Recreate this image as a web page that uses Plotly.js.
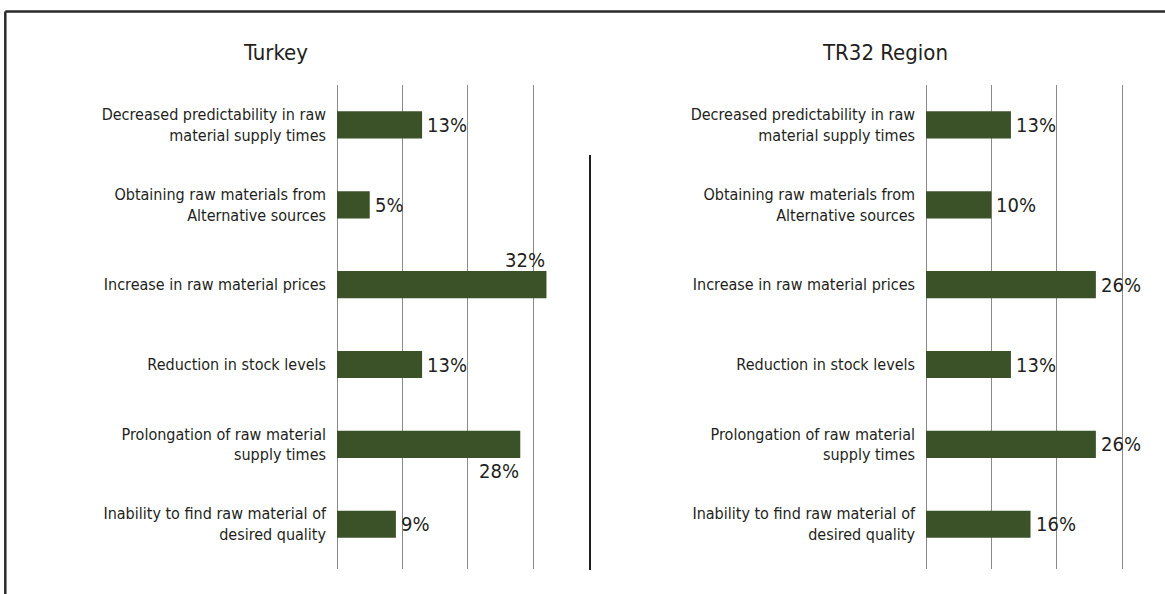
<!DOCTYPE html>
<html>
<head>
<meta charset="utf-8">
<script src="https://cdn.plot.ly/plotly-3.0.1.min.js"></script>
<style>
  html, body { margin: 0; padding: 0; background: #ffffff; }
  #chart { width: 1165px; height: 594px; }
</style>
</head>
<body>
<div id="chart"></div>
<script>
// ---- data ----
const categories = [
  "Decreased predictability in raw<br>material supply times",
  "Obtaining raw materials from<br>Alternative sources",
  "Increase in raw material prices",
  "Reduction in stock levels",
  "Prolongation of raw material<br>supply times",
  "Inability to find raw material of<br>desired quality"
];
const turkeyValues = [13, 5, 32, 13, 28, 9];
const tr32Values = [13, 10, 26, 13, 26, 16];
const panelTitles = ["Turkey", "TR32 Region"];

// ---- style ----
const FONT = '"Liberation Sans Narrow", "Arial Narrow", "DejaVu Sans Condensed", sans-serif';
const BAR_COLOR = '#3b5229';
const TEXT_COLOR = '#231f20';
const GRID_COLOR = '#8a8a8a';
const W = 1165, H = 594;
const px = x => x / W;
const py = y => 1 - y / H;

const yDomain = [py(569), py(85)];
const panels = [
  { values: turkeyValues, title: panelTitles[0], xa: 'x', ya: 'y', xdom: [px(337), px(553)], titleX: px(275.5),
    special: { 2: 'above', 4: 'below' } },
  { values: tr32Values, title: panelTitles[1], xa: 'x2', ya: 'y2', xdom: [px(926), px(1141.6)], titleX: px(885),
    special: {} }
];

const traces = panels.map(p => ({
  type: 'bar',
  orientation: 'h',
  x: p.values,
  y: categories,
  xaxis: p.xa,
  yaxis: p.ya,
  width: 0.34,
  marker: { color: BAR_COLOR, line: { width: 0 } },
  hoverinfo: 'none',
  showlegend: false
}));

const annotations = [];
panels.forEach(p => {
  annotations.push({
    xref: 'paper', yref: 'paper', x: p.titleX, y: py(53),
    xanchor: 'center', yanchor: 'middle', showarrow: false,
    text: p.title, font: { family: FONT, size: 22, color: TEXT_COLOR }
  });
  p.values.forEach((v, i) => {
    const mode = p.special[i] || 'end';
    const a = {
      xref: p.xa, yref: p.ya, x: v, y: categories[i], showarrow: false,
      text: v + '%', font: { family: FONT, size: 20, color: TEXT_COLOR }
    };
    if (mode === 'above') {
      a.xanchor = 'right'; a.yanchor = 'bottom'; a.yshift = 11; a.xshift = 1;
    } else if (mode === 'below') {
      a.xanchor = 'right'; a.yanchor = 'top'; a.yshift = -13; a.xshift = 1;
    } else {
      a.xanchor = 'left'; a.yanchor = 'middle'; a.xshift = 3;
    }
    annotations.push(a);
  });
});

function xAxis(dom, anchor) {
  return {
    domain: dom, anchor: anchor, range: [0, 33], fixedrange: true,
    showgrid: true, gridcolor: GRID_COLOR, gridwidth: 1,
    tick0: 0, dtick: 10, showticklabels: false, ticks: '',
    zeroline: true, zerolinecolor: GRID_COLOR, zerolinewidth: 1,
    showline: false
  };
}
function yAxis(anchor) {
  return {
    domain: yDomain, anchor: anchor, type: 'category',
    categoryorder: 'array', categoryarray: categories,
    range: [5.56, -0.5], fixedrange: true,
    showgrid: false, zeroline: false, showline: false, ticks: '',
    ticklabelstandoff: 10,
    tickfont: { family: FONT, size: 16, color: TEXT_COLOR }
  };
}

const layout = {
  width: W, height: H,
  margin: { l: 0, r: 0, t: 0, b: 0, pad: 0 },
  paper_bgcolor: '#ffffff', plot_bgcolor: 'rgba(0,0,0,0)',
  font: { family: FONT, color: TEXT_COLOR },
  xaxis: xAxis(panels[0].xdom, 'y'),
  yaxis: yAxis('x'),
  xaxis2: xAxis(panels[1].xdom, 'y2'),
  yaxis2: yAxis('x2'),
  annotations: annotations,
  shapes: [
    // outer frame (top and left edges visible)
    { type: 'line', xref: 'paper', yref: 'paper', x0: px(5.3), x1: 1.01, y0: py(11.5), y1: py(11.5),
      line: { color: '#2a2a2a', width: 2.5 } },
    { type: 'line', xref: 'paper', yref: 'paper', x0: px(5.3), x1: px(5.3), y0: py(11.5), y1: -0.01,
      line: { color: '#2a2a2a', width: 2.5 } },
    // separator between panels
    { type: 'line', xref: 'paper', yref: 'paper', x0: px(590), x1: px(590), y0: py(155), y1: py(570),
      line: { color: '#1e1e1e', width: 2 } }
  ],
  bargap: 0.66
};

Plotly.newPlot('chart', traces, layout, { staticPlot: true, displayModeBar: false });
</script>
</body>
</html>
